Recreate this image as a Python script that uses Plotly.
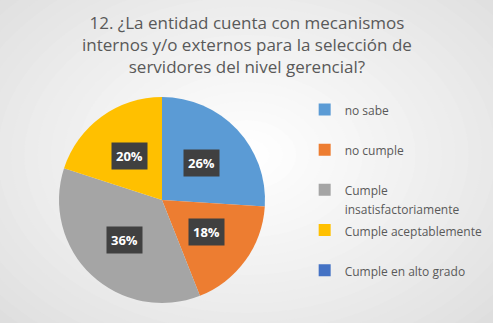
import math
import plotly.graph_objects as go

# ---- data ----
title_lines = ["12. ¿La entidad cuenta con mecanismos",
               "internos y/o externos para la selección de",
               "servidores del nivel gerencial?"]
categories = ["no sabe", "no cumple", "Cumple<br>insatisfactoriamente",
              "Cumple aceptablemente", "Cumple en alto grado"]
values = [26, 18, 36, 20, 0]
colors = ["#5B9BD5", "#ED7D31", "#A5A5A5", "#FFC000", "#4472C4"]

W, H = 493, 323
cx, cy, R = 162, 200, 103  # pixel layout of the pie

dom_x = [(cx - R) / W, (cx + R) / W]
dom_y = [(H - cy - R) / H, (H - cy + R) / H]

def legend_label(c):
    txt = f"<span style='font-size:12px'>{c}</span>"
    return txt if "<br>" in c else txt + "<br> "

fig = go.Figure()
fig.add_trace(go.Pie(
    labels=[legend_label(c) for c in categories], values=values, sort=False,
    direction="clockwise", rotation=0,
    marker=dict(colors=colors, line=dict(width=0)),
    textinfo="none", hoverinfo="percent",
    domain=dict(x=dom_x, y=dom_y), showlegend=True,
))

# background radial gradient (layered ellipses)
shapes = []
N = 30
gx, gy = 0.5, 0.52
for i in range(N):
    t = i / (N - 1)
    rx = 0.78 * (1 - t) + 0.02
    ry = 0.85 * (1 - t) + 0.02
    g = int(round(214 + (255 - 214) * t ** 0.8))
    shapes.append(dict(type="circle", xref="paper", yref="paper", layer="below",
                       x0=gx - rx, x1=gx + rx, y0=gy - ry, y1=gy + ry,
                       fillcolor=f"rgb({g},{g},{g})", line=dict(width=0)))

# percentage labels in dark boxes
annotations = []
total = sum(values)
cum = 0
for v in values:
    if v > 0:
        mid = (cum + v / 2) / total * 2 * math.pi
        px = cx + 0.53 * R * math.sin(mid)
        py = cy - 0.53 * R * math.cos(mid)
        annotations.append(dict(
            x=px / W, y=1 - py / H, xref="paper", yref="paper",
            xanchor="center", yanchor="middle",
            text=f"<b>{round(v / total * 100)}%</b>", showarrow=False,
            font=dict(family="Open Sans", size=13, color="white"),
            bgcolor="#404040", borderpad=4,
        ))
    cum += v

annotations.append(dict(
    x=0.5, y=1 - 9 / H, xref="paper", yref="paper", xanchor="center", yanchor="top",
    text="<br>".join(title_lines), showarrow=False, align="center",
    font=dict(family="Open Sans", size=17, color="#595959"),
))

fig.update_layout(
    width=W, height=H,
    margin=dict(l=0, r=0, t=0, b=0),
    paper_bgcolor="rgb(214,214,214)", plot_bgcolor="rgba(0,0,0,0)",
    legend=dict(x=0.618, y=0.71, xanchor="left", yanchor="top", valign="top",
                font=dict(family="Open Sans", size=14.3, color="#595959"),
                bgcolor="rgba(0,0,0,0)", itemwidth=30, traceorder="normal"),
    shapes=shapes, annotations=annotations,
)

fig.write_html("out.html")
